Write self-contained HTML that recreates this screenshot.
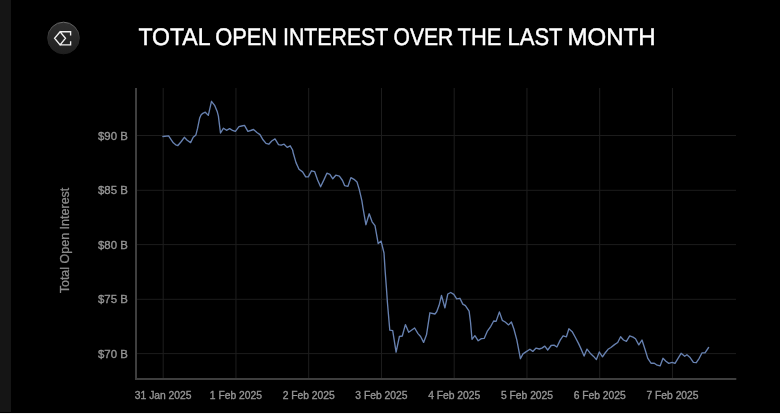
<!DOCTYPE html>
<html><head><meta charset="utf-8"><title>Total Open Interest</title>
<style>
html,body{margin:0;padding:0;background:#000;}
body{width:780px;height:414px;overflow:hidden;position:relative;font-family:"Liberation Sans",sans-serif;}
.strip{position:absolute;left:0;top:0;width:11px;height:412px;background:#151515;}
.bot{position:absolute;left:0;top:413px;width:780px;height:1px;background:#f2f2f2;}
svg{position:absolute;left:0;top:0;will-change:transform;}
svg text{font-family:"Liberation Sans",sans-serif;}
</style></head><body>
<div class="strip"></div>
<svg width="780" height="414" viewBox="0 0 780 414">
<line x1="137" y1="135.5" x2="736" y2="135.5" stroke="#1c1c1c" stroke-width="1"/>
<line x1="137" y1="190.3" x2="736" y2="190.3" stroke="#1c1c1c" stroke-width="1"/>
<line x1="137" y1="244.6" x2="736" y2="244.6" stroke="#1c1c1c" stroke-width="1"/>
<line x1="137" y1="299.3" x2="736" y2="299.3" stroke="#1c1c1c" stroke-width="1"/>
<line x1="137" y1="353.6" x2="736" y2="353.6" stroke="#1c1c1c" stroke-width="1"/>
<line x1="163.20" y1="88" x2="163.20" y2="378" stroke="#1e1e1e" stroke-width="1"/>
<line x1="235.95" y1="88" x2="235.95" y2="378" stroke="#1e1e1e" stroke-width="1"/>
<line x1="308.70" y1="88" x2="308.70" y2="378" stroke="#1e1e1e" stroke-width="1"/>
<line x1="381.45" y1="88" x2="381.45" y2="378" stroke="#1e1e1e" stroke-width="1"/>
<line x1="454.20" y1="88" x2="454.20" y2="378" stroke="#1e1e1e" stroke-width="1"/>
<line x1="526.95" y1="88" x2="526.95" y2="378" stroke="#1e1e1e" stroke-width="1"/>
<line x1="599.70" y1="88" x2="599.70" y2="378" stroke="#1e1e1e" stroke-width="1"/>
<line x1="672.45" y1="88" x2="672.45" y2="378" stroke="#1e1e1e" stroke-width="1"/>
<path d="M136 88 V379.1 H736.3" fill="none" stroke="#3e3e3e" stroke-width="2"/>
<path d="M162.9 136.5 L168.6 135.9 L170.6 138.9 L173.3 142.8 L175.7 144.8 L177.9 145.5 L181.3 141.5 L184.3 137.3 L187.2 140.2 L190.6 142.6 L193.2 137.3 L195.9 134.9 L197.6 128.2 L199.6 118.3 L201.0 115.1 L202.8 113.3 L205.3 112.2 L208.3 115.4 L211.5 101.3 L214.6 105.3 L217.3 111.8 L218.4 116.2 L220.5 133.0 L223.5 128.2 L226.5 130.3 L229.6 128.7 L232.5 130.3 L235.4 131.4 L239.0 126.7 L241.7 126.0 L244.5 125.4 L247.9 131.3 L250.6 130.5 L253.5 129.5 L256.9 132.5 L260.0 134.6 L263.0 139.8 L266.0 143.4 L268.8 144.2 L271.7 141.0 L275.0 138.9 L278.5 144.6 L281.1 145.2 L284.1 144.2 L287.2 147.4 L290.2 145.8 L292.6 150.0 L293.3 153.3 L296.0 162.6 L299.0 169.2 L302.6 171.9 L305.7 176.9 L308.3 176.9 L311.5 170.8 L314.6 171.6 L317.6 179.9 L320.6 186.8 L323.9 179.9 L326.9 173.2 L329.9 174.3 L332.8 178.8 L335.8 175.2 L339.4 176.1 L342.5 180.5 L344.6 185.6 L348.0 186.3 L350.9 177.6 L354.0 179.3 L357.0 182.0 L359.3 189.6 L361.9 200.9 L363.0 208.0 L365.9 224.7 L369.2 213.8 L372.1 221.8 L375.0 225.7 L378.2 243.6 L381.1 241.1 L384.0 253.0 L385.2 271.7 L386.4 287.7 L387.4 302.2 L389.8 330.2 L392.7 330.6 L396.1 352.2 L399.4 336.5 L402.3 336.0 L405.4 324.6 L408.7 332.3 L414.6 328.0 L418.0 333.6 L420.6 336.5 L423.6 342.4 L426.5 334.8 L429.9 312.8 L434.9 314.0 L436.7 311.8 L439.1 305.3 L441.5 295.4 L444.9 307.9 L447.8 294.0 L450.7 292.5 L453.8 294.4 L456.7 298.8 L459.9 298.3 L462.8 304.1 L465.4 305.6 L469.1 311.1 L470.5 322.0 L472.0 339.3 L474.9 335.7 L478.2 340.8 L481.4 338.6 L484.3 338.3 L487.2 331.4 L490.8 326.3 L493.7 321.0 L496.1 321.4 L499.4 311.9 L502.3 320.3 L505.2 322.0 L508.6 324.9 L511.4 322.0 L513.9 329.0 L516.8 339.9 L520.4 358.7 L523.0 353.9 L525.9 351.9 L529.9 349.3 L532.8 351.4 L536.1 348.1 L539.3 349.0 L541.9 348.1 L544.8 346.1 L547.7 350.0 L551.1 345.5 L554.0 345.1 L556.9 347.0 L560.2 340.1 L563.1 335.8 L566.4 336.8 L568.9 328.8 L572.2 331.7 L575.4 337.5 L578.6 343.6 L581.5 349.9 L584.1 356.1 L587.0 349.1 L590.2 353.2 L593.6 356.4 L596.4 359.6 L599.3 352.0 L602.5 356.8 L605.1 353.0 L608.0 349.3 L610.9 347.5 L614.5 344.6 L617.7 342.5 L620.6 336.7 L623.5 340.0 L626.4 341.4 L629.7 335.9 L633.0 337.1 L635.5 338.8 L638.8 344.9 L642.0 340.0 L644.9 349.0 L647.8 358.4 L651.0 363.2 L654.3 363.2 L657.2 365.2 L660.1 365.9 L663.0 358.3 L665.9 361.2 L668.8 363.4 L672.1 362.4 L675.0 363.4 L677.9 358.6 L681.1 353.3 L684.7 356.2 L686.9 354.7 L689.8 357.2 L693.4 362.4 L696.3 362.7 L699.2 358.3 L702.1 352.8 L705.0 352.8 L708.6 347.5" fill="none" stroke="#6781b0" stroke-width="1.35" stroke-linejoin="round" stroke-linecap="round"/>
<text x="127.8" y="139.6" text-anchor="end" font-size="11.4" fill="#959595" stroke="#959595" stroke-width="0.35">$90 B</text>
<text x="127.8" y="194.4" text-anchor="end" font-size="11.4" fill="#959595" stroke="#959595" stroke-width="0.35">$85 B</text>
<text x="127.8" y="248.7" text-anchor="end" font-size="11.4" fill="#959595" stroke="#959595" stroke-width="0.35">$80 B</text>
<text x="127.8" y="303.4" text-anchor="end" font-size="11.4" fill="#959595" stroke="#959595" stroke-width="0.35">$75 B</text>
<text x="127.8" y="357.7" text-anchor="end" font-size="11.4" fill="#959595" stroke="#959595" stroke-width="0.35">$70 B</text>
<text x="163.2" y="398.6" text-anchor="middle" font-size="10.3" fill="#959595" stroke="#959595" stroke-width="0.35">31 Jan 2025</text>
<text x="235.9" y="398.6" text-anchor="middle" font-size="10.3" fill="#959595" stroke="#959595" stroke-width="0.35">1 Feb 2025</text>
<text x="308.7" y="398.6" text-anchor="middle" font-size="10.3" fill="#959595" stroke="#959595" stroke-width="0.35">2 Feb 2025</text>
<text x="381.4" y="398.6" text-anchor="middle" font-size="10.3" fill="#959595" stroke="#959595" stroke-width="0.35">3 Feb 2025</text>
<text x="454.2" y="398.6" text-anchor="middle" font-size="10.3" fill="#959595" stroke="#959595" stroke-width="0.35">4 Feb 2025</text>
<text x="527.0" y="398.6" text-anchor="middle" font-size="10.3" fill="#959595" stroke="#959595" stroke-width="0.35">5 Feb 2025</text>
<text x="599.7" y="398.6" text-anchor="middle" font-size="10.3" fill="#959595" stroke="#959595" stroke-width="0.35">6 Feb 2025</text>
<text x="672.5" y="398.6" text-anchor="middle" font-size="10.3" fill="#959595" stroke="#959595" stroke-width="0.35">7 Feb 2025</text>
<text transform="translate(69 240.5) rotate(-90)" text-anchor="middle" font-size="12.5" fill="#8a8a8a" stroke="#8a8a8a" stroke-width="0.3">Total Open Interest</text>
<defs><linearGradient id="cf" x1="0" y1="0" x2="0" y2="1"><stop offset="0" stop-color="#2f2f2f"/><stop offset="1" stop-color="#1f1f1f"/></linearGradient><linearGradient id="cs" x1="0" y1="0" x2="0" y2="1"><stop offset="0" stop-color="#6a6a6a"/><stop offset="0.5" stop-color="#2c2c2c"/><stop offset="1" stop-color="#1f1f1f"/></linearGradient></defs>
<circle cx="63.5" cy="38" r="15.8" fill="url(#cf)" stroke="url(#cs)" stroke-width="1"/>
<path d="M60.1 31.7 L54.6 38.3 L60.1 44.9 L65.5 38.3 Z M60.1 31.7 H70.6 V35.4 M60.1 44.9 H70.6 V41.2" fill="none" stroke="#f0f0f0" stroke-width="1.35" stroke-linejoin="miter"/>
<g font-size="24" fill="#fff" stroke="#fff" stroke-width="0.45" style="text-rendering:geometricPrecision"><text transform="translate(138.38 0) scale(0.9605 1)" x="0" y="45">TOTAL</text><text transform="translate(215.17 0) scale(0.9109 1)" x="0" y="45">OPEN</text><text transform="translate(282.98 0) scale(0.8876 1)" x="0" y="45">INTEREST</text><text transform="translate(393.50 0) scale(0.8780 1)" x="0" y="45">OVER</text><text transform="translate(457.59 0) scale(0.9121 1)" x="0" y="45">THE</text><text transform="translate(507.56 0) scale(0.9156 1)" x="0" y="45">LAST</text><text transform="translate(567.52 0) scale(1.0013 1)" x="0" y="45">MONTH</text></g>
</svg>
<div class="bot"></div>
</body></html>
